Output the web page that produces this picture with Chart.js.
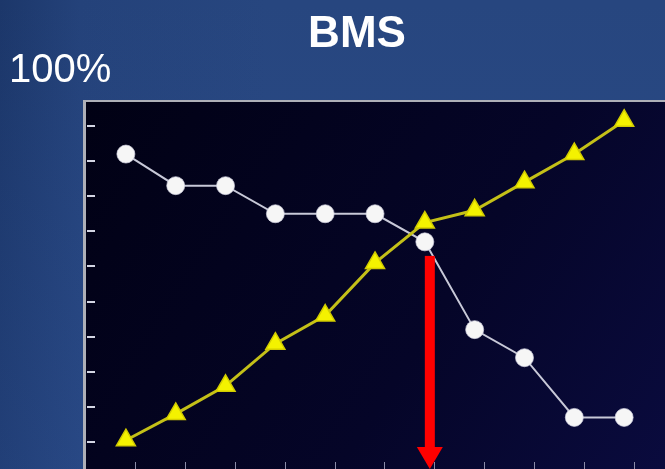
<!DOCTYPE html>
<html>
<head>
<meta charset="utf-8">
<title>BMS</title>
<script src="https://cdn.jsdelivr.net/npm/chart.js@4/dist/chart.umd.min.js"></script>
<style>
  html, body {
    margin: 0;
    padding: 0;
  }
  body {
    width: 665px;
    height: 469px;
    position: relative;
    overflow: hidden;
    background:
      linear-gradient(to bottom, rgba(60, 100, 180, 0) 0%, rgba(60, 100, 180, 0.18) 100%),
      linear-gradient(90deg, #1c376a 0%, #24427a 12%, #27467f 40%, #27467f 100%);
    font-family: "Liberation Sans", Arial, sans-serif;
    color: #fff;
  }
  #title {
    position: absolute;
    left: 257px;
    top: 10px;
    width: 200px;
    text-align: center;
    font-size: 44px;
    line-height: 44px;
    font-weight: bold;
  }
  #top-label {
    position: absolute;
    left: 9px;
    top: 48px;
    font-size: 40px;
    line-height: 40px;
  }
  #chart {
    position: absolute;
    left: 0;
    top: 0;
  }
</style>
</head>
<body>
<canvas id="chart" width="665" height="469"></canvas>
<div id="title">BMS</div>
<div id="top-label">100%</div>
<script>
const chartCanvas = document.querySelector("#chart");

// stages along the x axis
const stages = [1, 2, 3, 4, 5, 6, 7, 8, 9, 10, 11];
// white circles, falling curve (%)
const whiteValues = [82, 73, 73, 65, 65, 65, 57, 32, 24, 7, 7];
// yellow triangles, rising curve (%)
const yellowValues = [0.5, 8, 16, 28, 36, 51, 62.5, 66, 74, 82, 91.5];
// tick marks
const xTicks = [1.2, 2.2, 3.2, 4.2, 5.2, 6.2, 7.2, 8.2, 9.2, 10.2, 11.2];
const yTicks = [0, 10, 20, 30, 40, 50, 60, 70, 80, 90];
// red arrow: x position and where it starts
const arrowStage = 7.1;
const arrowTop = 53;

function toPoints(values) {
  return stages.map((s, i) => ({ x: s, y: values[i] }));
}

// dark plot panel with a grey frame on top and left
const panelPlugin = {
  id: "panel",
  beforeDraw(chart) {
    const ctx = chart.ctx;
    const area = chart.chartArea;
    const x0 = area.left - 12;
    const y0 = area.top;
    ctx.save();
    const grad = ctx.createLinearGradient(x0, y0, chart.width, chart.height);
    grad.addColorStop(0, "#010114");
    grad.addColorStop(0.6, "#050528");
    grad.addColorStop(1, "#0a0b3e");
    ctx.fillStyle = grad;
    ctx.fillRect(x0, y0, chart.width - x0, chart.height - y0);
    ctx.fillStyle = "#aeb0b8";
    ctx.fillRect(x0, y0, chart.width - x0, 2);
    ctx.fillRect(x0, y0, 3, chart.height - y0);
    ctx.restore();
  },
};

// red downward arrow
const arrowPlugin = {
  id: "arrow",
  afterDatasetsDraw(chart) {
    const ctx = chart.ctx;
    const x = chart.scales.x.getPixelForValue(arrowStage);
    const top = chart.scales.y.getPixelForValue(arrowTop);
    const bottom = chart.height;
    const headH = 22;
    ctx.save();
    ctx.fillStyle = "#ff0000";
    ctx.fillRect(x - 5, top, 10, bottom - headH - top + 1);
    ctx.beginPath();
    ctx.moveTo(x - 13, bottom - headH);
    ctx.lineTo(x + 13, bottom - headH);
    ctx.lineTo(x, bottom);
    ctx.closePath();
    ctx.fill();
    ctx.restore();
  },
};

const data = {
  datasets: [
    {
      label: "yellow",
      data: toPoints(yellowValues),
      borderColor: "#c4c018",
      borderWidth: 3,
      pointStyle: "triangle",
      pointRadius: 11,
      pointBackgroundColor: "#f4f200",
      pointBorderColor: "#d2cc00",
      pointBorderWidth: 1.5,
    },
    {
      label: "white",
      data: toPoints(whiteValues),
      borderColor: "#c8c9d8",
      borderWidth: 2,
      pointStyle: "circle",
      pointRadius: 9,
      pointBackgroundColor: "#f6f6f6",
      pointBorderColor: "rgba(210, 210, 225, 0.7)",
      pointBorderWidth: 1,
    },
  ],
};

const config = {
  type: "line",
  data: data,
  options: {
    responsive: false,
    animation: false,
    events: [],
    clip: false,
    layout: {
      autoPadding: false,
      padding: { top: 100, left: 0, right: 0, bottom: 0 },
    },
    plugins: {
      legend: { display: false },
      tooltip: { enabled: false },
      title: { display: false },
    },
    scales: {
      x: {
        type: "linear",
        min: 0.38,
        max: 11.82,
        afterBuildTicks: (axis) => {
          axis.ticks = xTicks.map((v) => ({ value: v }));
        },
        afterFit: (axis) => {
          axis.height = 7;
        },
        ticks: { display: false },
        border: { display: false },
        grid: {
          drawOnChartArea: false,
          drawTicks: true,
          tickLength: 7,
          color: "#8a8ca8",
          lineWidth: 1,
        },
      },
      y: {
        type: "linear",
        min: -5.7,
        max: 97.4,
        afterBuildTicks: (axis) => {
          axis.ticks = yTicks.map((v) => ({ value: v }));
        },
        afterFit: (axis) => {
          axis.width = 95;
        },
        ticks: { display: false },
        border: { display: false },
        grid: {
          drawOnChartArea: false,
          drawTicks: true,
          tickLength: 8,
          color: "#d4d6e4",
          lineWidth: 2,
        },
      },
    },
  },
  plugins: [panelPlugin, arrowPlugin],
};

const myChart = new Chart(chartCanvas, config);
</script>
</body>
</html>
